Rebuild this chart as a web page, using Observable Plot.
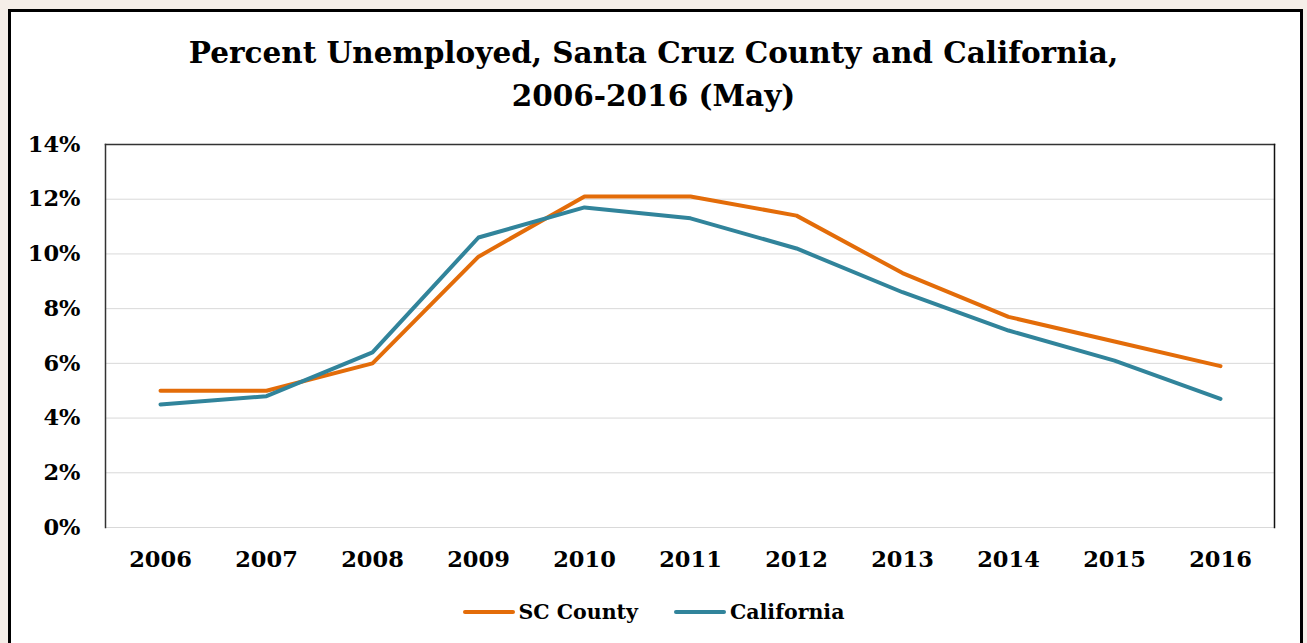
<!DOCTYPE html>
<html><head><meta charset="utf-8">
<script src="https://cdn.jsdelivr.net/npm/d3@7"></script>
<script src="https://cdn.jsdelivr.net/npm/@observablehq/plot@0.6"></script>
<style>
html,body{margin:0;padding:0;background:#f5eee8;width:1307px;height:643px;overflow:hidden;}
#panel{position:absolute;left:8px;top:9px;width:1289px;height:700px;border:3px solid #000;background:#fff;}
#title{position:absolute;left:0;top:31px;width:1307px;text-align:center;font:bold 29.5px "DejaVu Serif",serif;line-height:43px;color:#000;}
#chart{position:absolute;left:0;top:120px;}
#legend{position:absolute;left:0;top:595px;width:1307px;text-align:center;font:bold 20.5px "DejaVu Serif",serif;color:#000;}
.item{display:inline-flex;align-items:center;margin:0 18px;}
.sw{display:inline-block;width:52px;height:4px;border-radius:2px;margin-right:4px;}
</style></head>
<body>
<div id="panel"></div>
<div id="title">Percent Unemployed, Santa Cruz County and California,<br>2006-2016 (May)</div>
<div id="chart"></div>
<div id="legend"></div>
<script>
const years = ["2006","2007","2008","2009","2010","2011","2012","2013","2014","2015","2016"];
const scCounty = [5.0, 5.0, 6.0, 9.9, 12.1, 12.1, 11.4, 9.3, 7.7, 6.8, 5.9];
const california = [4.5, 4.8, 6.4, 10.6, 11.7, 11.3, 10.2, 8.6, 7.2, 6.1, 4.7];
const seriesNames = ["SC County", "California"];
const seriesColors = ["#e36c09", "#31849b"];
const yTicks = [0, 2, 4, 6, 8, 10, 12, 14];

const rows = [];
years.forEach((y, i) => {
  rows.push({year: y, value: scCounty[i], series: seriesNames[0]});
  rows.push({year: y, value: california[i], series: seriesNames[1]});
});

const chart = Plot.plot({
  width: 1307, height: 460,
  marginLeft: 105, marginRight: 33, marginTop: 24, marginBottom: 53,
  style: {fontFamily: "DejaVu Serif, serif", fontWeight: "bold", fontSize: "22.5px", color: "#000", background: "transparent", overflow: "visible"},
  x: {type: "point", domain: years, padding: 0.5, label: null, tickSize: 0, tickPadding: 24},
  y: {domain: [0, 14], ticks: yTicks, tickFormat: d => d + "%", label: null, tickSize: 0, tickPadding: 25},
  color: {domain: seriesNames, range: seriesColors},
  marks: [
    Plot.gridY(yTicks, {stroke: "#d9d9d9", strokeOpacity: 1, strokeWidth: 1}),
    Plot.frame({anchor: "left", stroke: "#333", strokeWidth: 1.5}),
    Plot.frame({anchor: "top", stroke: "#333", strokeWidth: 1.5}),
    Plot.frame({anchor: "right", stroke: "#111", strokeWidth: 1.5}),
    Plot.line(rows, {x: "year", y: "value", z: "series", stroke: "series", strokeWidth: 4, strokeLinejoin: "round", strokeLinecap: "round"})
  ]
});
document.getElementById("chart").appendChild(chart);

const leg = document.getElementById("legend");
seriesNames.forEach((n, i) => {
  const s = document.createElement("span"); s.className = "item";
  const sw = document.createElement("span"); sw.className = "sw"; sw.style.background = seriesColors[i];
  s.appendChild(sw); s.appendChild(document.createTextNode(n));
  leg.appendChild(s);
});
</script>
</body></html>
